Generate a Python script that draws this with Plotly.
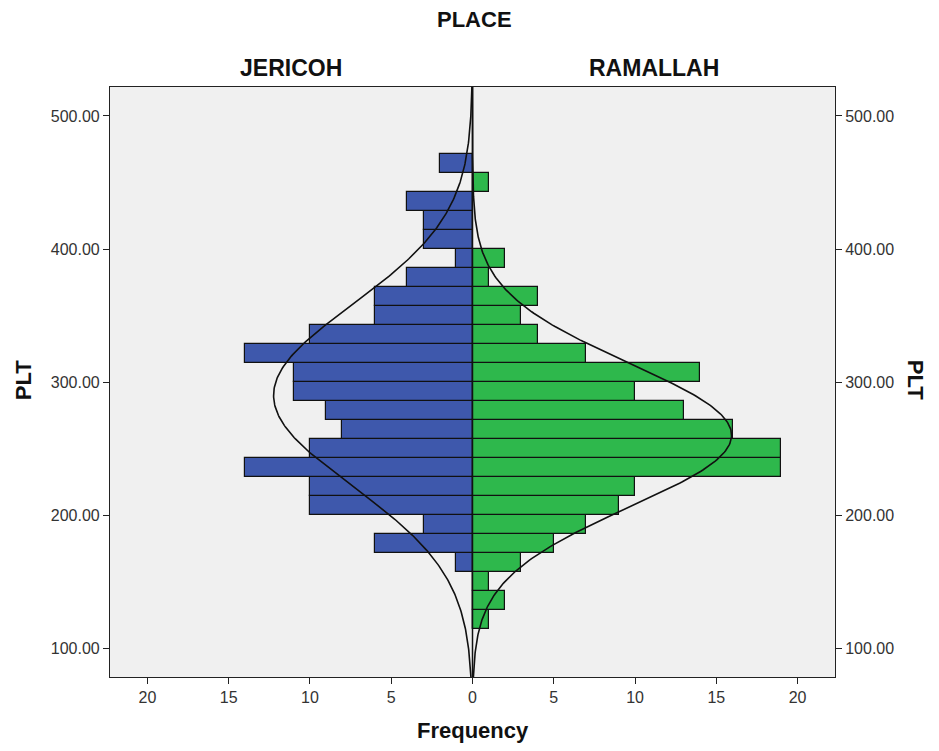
import numpy as np
import plotly.graph_objects as go

# ---- data ----
bin_lower_first = 114.2857          # lower edge of first bin
bin_width = 100 / 7                 # ~14.29 PLT units
jericho_counts = [0, 0, 0, 1, 6, 3, 10, 10, 14, 10, 8, 9, 11, 11, 14, 10, 6, 6, 4, 1, 3, 3, 4, 0, 2]
ramallah_counts = [1, 2, 1, 3, 5, 7, 9, 10, 19, 19, 16, 13, 10, 14, 7, 4, 3, 4, 1, 2, 0, 0, 0, 1, 0]
jericho_mean, jericho_sd = 290.0, 68.0
ramallah_mean, ramallah_sd = 260.0, 54.0
x_tick_vals = [-20, -15, -10, -5, 0, 5, 10, 15, 20]
x_tick_text = ["20", "15", "10", "5", "0", "5", "10", "15", "20"]
y_tick_vals = [100, 200, 300, 400, 500]
y_tick_text = ["100.00", "200.00", "300.00", "400.00", "500.00"]
groups = ["JERICOH", "RAMALLAH"]

Y_RANGE = [78.2, 521.8]
X_RANGE = [-22.3, 22.3]

centers = [bin_lower_first + bin_width * (i + 0.5) for i in range(len(jericho_counts))]

BLUE = "#3E58AC"
GREEN = "#2EB84C"
FONT = "Liberation Sans, Arial, sans-serif"

fig = go.Figure()
fig.add_trace(go.Bar(
    y=centers, x=[-c for c in jericho_counts], orientation="h", width=bin_width,
    marker=dict(color=BLUE, line=dict(color="#111111", width=1.2)), showlegend=False))
fig.add_trace(go.Bar(
    y=centers, x=ramallah_counts, orientation="h", width=bin_width,
    marker=dict(color=GREEN, line=dict(color="#111111", width=1.2)), showlegend=False))

# fitted normal curves
yy = np.linspace(Y_RANGE[0], Y_RANGE[1], 400)
def normal_curve(n, mean, sd):
    return n * bin_width * np.exp(-0.5 * ((yy - mean) / sd) ** 2) / (sd * np.sqrt(2 * np.pi))
fig.add_trace(go.Scatter(x=-normal_curve(sum(jericho_counts), jericho_mean, jericho_sd), y=yy,
                         mode="lines", line=dict(color="#111111", width=1.6), showlegend=False))
fig.add_trace(go.Scatter(x=normal_curve(sum(ramallah_counts), ramallah_mean, ramallah_sd), y=yy,
                         mode="lines", line=dict(color="#111111", width=1.6), showlegend=False))
# dummy trace for right axis
fig.add_trace(go.Scatter(x=[0], y=[300], yaxis="y2", mode="markers",
                         marker=dict(opacity=0), showlegend=False, hoverinfo="skip"))

fig.add_shape(type="line", xref="x", yref="paper", x0=0, x1=0, y0=0, y1=1,
              line=dict(color="#111111", width=1.5))

tickfont = dict(family=FONT, size=16, color="#333333")
titlefont = dict(family=FONT, size=22, color="#111111")

fig.update_layout(
    width=923, height=735,
    margin=dict(l=102, r=96, t=79, b=66),
    paper_bgcolor="white", plot_bgcolor="#F0F0F0",
    barmode="overlay", bargap=0,
    xaxis=dict(range=X_RANGE, tickvals=x_tick_vals, ticktext=x_tick_text,
               showgrid=False, zeroline=False, showline=True, linecolor="#222222",
               linewidth=1.2, mirror=True, ticks="outside", ticklen=6, tickcolor="#222222",
               tickfont=tickfont),
    yaxis=dict(range=Y_RANGE, tickvals=y_tick_vals, ticktext=y_tick_text,
               showgrid=False, zeroline=False, showline=True, linecolor="#222222",
               linewidth=1.2, mirror=True, ticks="outside", ticklen=6, tickcolor="#222222",
               tickfont=tickfont),
    yaxis2=dict(range=Y_RANGE, tickvals=y_tick_vals, ticktext=y_tick_text, overlaying="y",
                side="right", showgrid=False, zeroline=False, ticks="outside", ticklen=6,
                tickcolor="#222222", tickfont=tickfont),
    annotations=[
        dict(text="<b>PLACE</b>", x=0.503, y=1.1136, xref="paper", yref="paper",
             showarrow=False, font=titlefont, xanchor="center", yanchor="middle"),
        dict(text="<b>%s</b>" % groups[0], x=0.25, y=1.0322, xref="paper", yref="paper",
             showarrow=False, font=dict(family=FONT, size=23, color="#111111"),
             xanchor="center", yanchor="middle"),
        dict(text="<b>%s</b>" % groups[1], x=0.75, y=1.0322, xref="paper", yref="paper",
             showarrow=False, font=dict(family=FONT, size=23, color="#111111"),
             xanchor="center", yanchor="middle"),
        dict(text="<b>Frequency</b>", x=0.5, y=-0.0915, xref="paper", yref="paper",
             showarrow=False, font=titlefont, xanchor="center", yanchor="middle"),
        dict(text="<b>PLT</b>", x=-0.12, y=0.503, xref="paper", yref="paper", textangle=-90,
             showarrow=False, font=titlefont, xanchor="center", yanchor="middle"),
        dict(text="<b>PLT</b>", x=1.111, y=0.503, xref="paper", yref="paper", textangle=90,
             showarrow=False, font=titlefont, xanchor="center", yanchor="middle"),
    ],
)

fig.write_html("out.html")
